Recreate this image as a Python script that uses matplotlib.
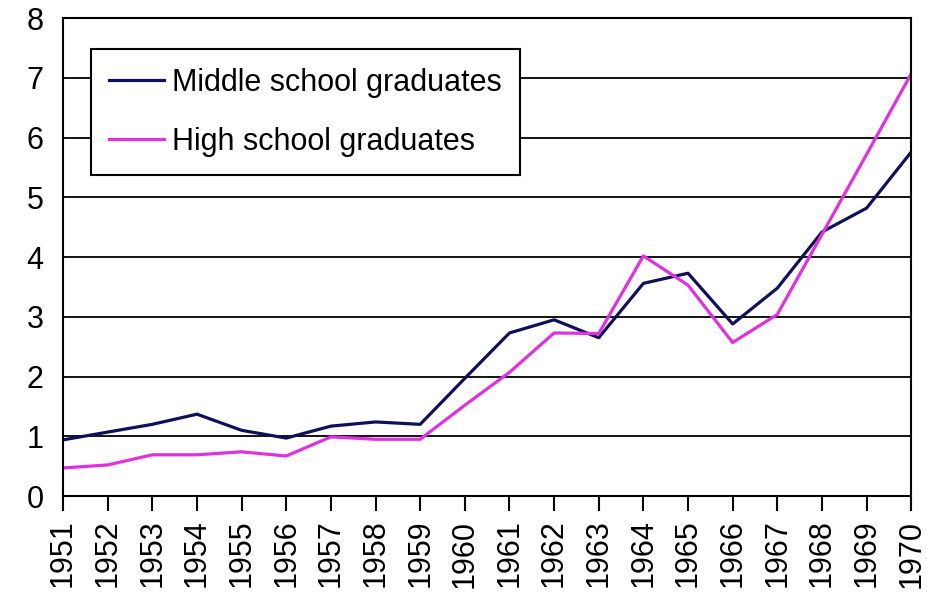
import matplotlib.pyplot as plt

years = list(range(1951, 1971))
middle_school = [0.94, 1.07, 1.2, 1.37, 1.1, 0.97, 1.17, 1.24, 1.2, 1.97,
                 2.73, 2.95, 2.65, 3.56, 3.73, 2.88, 3.48, 4.42, 4.82, 5.76]
high_school = [0.47, 0.52, 0.69, 0.69, 0.74, 0.67, 0.99, 0.95, 0.95, 1.52,
               2.07, 2.73, 2.72, 4.02, 3.53, 2.57, 3.04, 4.38, 5.72, 7.07]

plt.rcParams['font.family'] = ['Liberation Sans', 'DejaVu Sans']

fig = plt.figure(figsize=(9.27, 6.06), dpi=100)
ax = fig.add_axes([0.068, 0.1815, 0.915, 0.7885])

ax.plot(years, middle_school, color='#10105a', lw=2.3, label='Middle school graduates')
ax.plot(years, high_school, color='#e030e0', lw=2.3, label='High school graduates')

ax.set_xlim(1951, 1970)
ax.set_ylim(0, 8)
ax.set_yticks(range(0, 9))
ax.set_xticks(years)
ax.set_xticklabels([str(y) for y in years], rotation=90, fontsize=22)
ax.tick_params(axis='y', length=0, labelsize=22, pad=14)
ax.tick_params(axis='x', length=11, width=1.5, direction='out', pad=6)
ax.yaxis.grid(True, color='black', lw=1.3)
ax.set_axisbelow(True)
for s in ax.spines.values():
    s.set_linewidth(1.5)

# legend box sits inside the plot, upper left
leg = ax.legend(loc='upper left', bbox_to_anchor=(0.033, 0.935), fontsize=22,
                frameon=True, fancybox=False, edgecolor='black', framealpha=1,
                handlelength=1.8, handletextpad=0.25, borderpad=0.6,
                labelspacing=0.95, borderaxespad=0)
leg.get_frame().set_linewidth(1.5)

fig.savefig('out.png', dpi=100)
